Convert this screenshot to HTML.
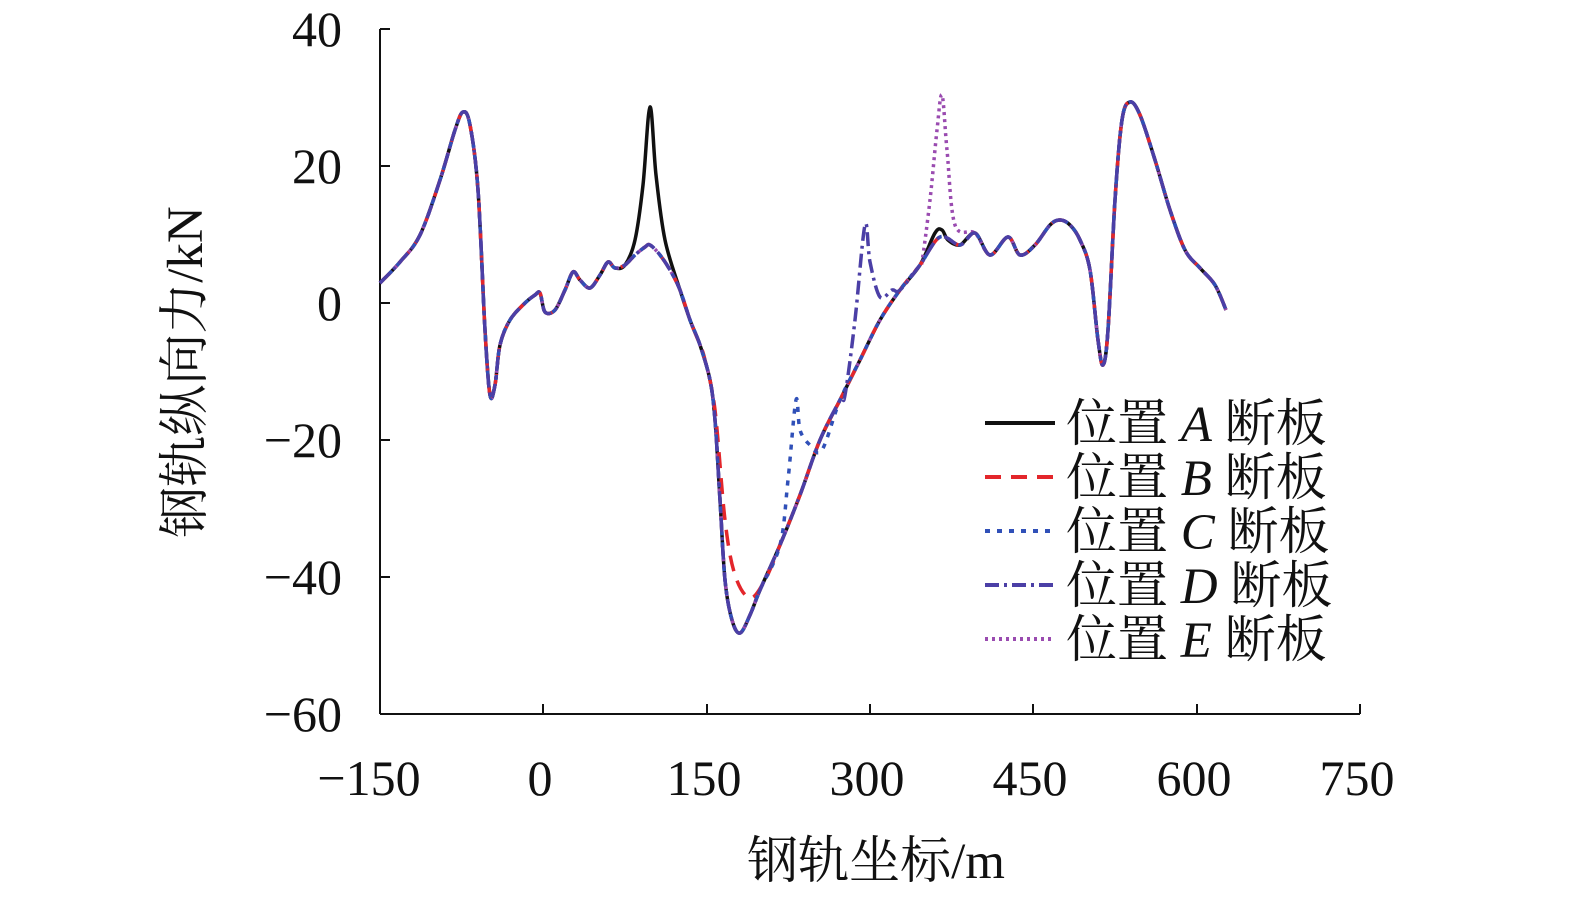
<!DOCTYPE html>
<html><head><meta charset="utf-8"><style>
html,body{margin:0;padding:0;background:#fff;overflow:hidden;width:1575px;height:905px;}
svg{display:block;}
text{font-family:"Liberation Serif","Noto Serif CJK SC",serif;fill:#111;}
</style></head><body>
<svg id="s" width="1575" height="905" viewBox="0 0 1575 905" xmlns="http://www.w3.org/2000/svg">
<g stroke="#111" stroke-width="2" fill="none">
<line x1="380" y1="29" x2="380" y2="714"/>
<line x1="380" y1="714" x2="1360" y2="714"/>
<line x1="380" y1="29" x2="390" y2="29"/>
<line x1="380" y1="166" x2="390" y2="166"/>
<line x1="380" y1="303" x2="390" y2="303"/>
<line x1="380" y1="440" x2="390" y2="440"/>
<line x1="380" y1="577" x2="390" y2="577"/>
<line x1="543" y1="704" x2="543" y2="714"/>
<line x1="707" y1="704" x2="707" y2="714"/>
<line x1="870" y1="704" x2="870" y2="714"/>
<line x1="1033" y1="704" x2="1033" y2="714"/>
<line x1="1197" y1="704" x2="1197" y2="714"/>
<line x1="1360" y1="704" x2="1360" y2="714"/>
</g>
<g font-size="50" text-anchor="end">
<text x="342" y="46">40</text>
<text x="342" y="183">20</text>
<text x="342" y="320">0</text>
<text x="342" y="457">−20</text>
<text x="342" y="594">−40</text>
<text x="342" y="731">−60</text>
</g>
<g font-size="50" text-anchor="middle">
<text x="369" y="795">−150</text>
<text x="540" y="795">0</text>
<text x="704" y="795">150</text>
<text x="867" y="795">300</text>
<text x="1030" y="795">450</text>
<text x="1194" y="795">600</text>
<text x="1357" y="795">750</text>
</g>
<text x="876" y="878" font-size="51" text-anchor="middle">钢轨坐标/m</text>
<text transform="translate(202,372) rotate(-90)" font-size="51" text-anchor="middle">钢轨纵向力/kN</text>
<g id="curves" fill="none" stroke-width="3.5"></g>
<g stroke-width="4">
<line x1="985" y1="423" x2="1055" y2="423" stroke="#111"/>
<line x1="985" y1="477" x2="1055" y2="477" stroke="#e3262b" stroke-dasharray="16,10"/>
<line x1="985" y1="531" x2="1055" y2="531" stroke="#3050b8" stroke-dasharray="5,7"/>
<line x1="985" y1="585" x2="1055" y2="585" stroke="#4b3fa6" stroke-dasharray="14,5,3,5"/>
<line x1="985" y1="639" x2="1055" y2="639" stroke="#9a4bb0" stroke-dasharray="3,4"/>
</g>
<g font-size="51">
<text x="1066" y="441">位置 <tspan font-style="italic">A</tspan> 断板</text>
<text x="1066" y="495">位置 <tspan font-style="italic">B</tspan> 断板</text>
<text x="1066" y="549">位置 <tspan font-style="italic">C</tspan> 断板</text>
<text x="1066" y="603">位置 <tspan font-style="italic">D</tspan> 断板</text>
<text x="1066" y="657">位置 <tspan font-style="italic">E</tspan> 断板</text>
</g>
</svg>
<script>
function cr(p){var d="M"+p[0][0]+","+p[0][1];for(var i=0;i<p.length-1;i++){var a=p[Math.max(0,i-1)],b=p[i],c=p[i+1],e=p[Math.min(p.length-1,i+2)];d+=" C"+(b[0]+(c[0]-a[0])/6).toFixed(1)+","+(b[1]+(c[1]-a[1])/6).toFixed(1)+" "+(c[0]-(e[0]-b[0])/6).toFixed(1)+","+(c[1]-(e[1]-b[1])/6).toFixed(1)+" "+c[0]+","+c[1];}return d;}
var pre=[[380,283],[400,262],[420,235],[440,180],[455,130],[463,112],[470,125],[478,190],[485,330],[490,395],[495,385],[500,345],[510,320],[525,303],[535,295],[540,293],[545,312],[555,310],[565,290],[573,272],[580,280],[590,288],[600,275],[608,262],[615,268],[625,265],[635,255],[645,247],[650,245]];
var mid=[[660,255],[670,270],[680,290],[690,320],[700,345],[710,380],[715,420],[720,500],[725,580],[732,620],[740,633],[750,615],[760,590],[780,545],[800,495],[820,440],[840,400],[860,360],[880,320],[900,290],[920,265],[940,237]];
var post=[[960,245],[975,233],[990,255],[1008,237],[1020,255],[1035,245],[1050,225],[1060,220],[1070,225],[1080,240],[1090,270],[1098,340],[1103,365],[1108,330],[1115,200],[1122,120],[1130,102],[1140,115],[1155,160],[1170,210],[1185,250],[1200,268],[1215,285],[1226,310]];
function seg(a,b){return mid.filter(function(p){return p[0]<a||p[0]>b;});}
function ins(arr,pts){var r=arr.concat(pts);r.sort(function(x,y){return x[0]-y[0];});return r;}
var A=pre.slice(0,26).concat([[635,240],[643,185],[650,107],[656,175],[665,240],[680,290]]).concat(mid.filter(function(p){return p[0]>680&&p[0]<940;})).concat([[935,233],[942,230],[948,240]]).concat(post);
var B=pre.concat(ins(seg(702,762),[[705,360],[715,410],[725,520],[735,575],[750,598],[765,580]]),post);
var C=pre.concat(ins(seg(772,828),[[780,545],[788,480],[796,400],[800,430],[810,445],[822,450]]),post);
var D=pre.concat(ins(seg(842,888),[[845,395],[855,320],[865,225],[870,262],[880,297],[892,290]]),post);
var E=pre.concat(ins(seg(922,940),[[922,262],[930,200],[937,130],[942,95],[947,150],[955,225]]),post.slice(1));
var defs=[[A,"#111",""],[E,"#9a4bb0","3,4"],[B,"#e3262b","16,10"],[C,"#3050b8","5,7"],[D,"#4b3fa6","14,5,3,5"]];
var g=document.getElementById("curves");
defs.forEach(function(d){var p=document.createElementNS("http://www.w3.org/2000/svg","path");p.setAttribute("d",cr(d[0]));p.setAttribute("stroke",d[1]);if(d[2])p.setAttribute("stroke-dasharray",d[2]);g.appendChild(p);});
</script>
</body></html>
